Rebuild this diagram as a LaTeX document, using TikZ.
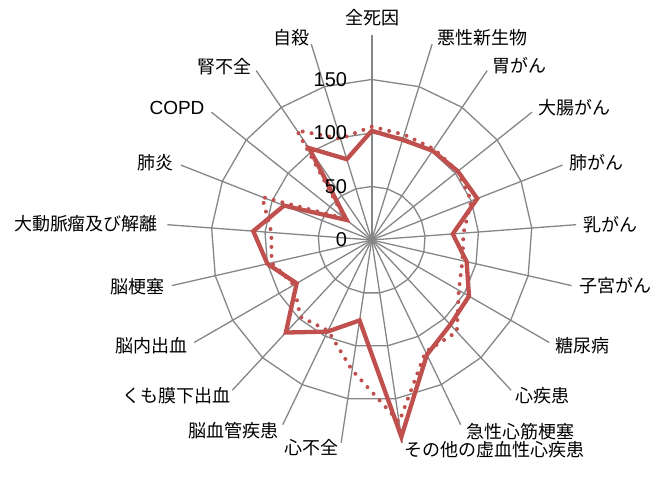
\documentclass[tikz,border=0pt]{standalone}
\usepackage{fontspec}
\setmainfont{Noto Sans CJK JP}
\newfontfamily\latinfont{Liberation Sans}
\definecolor{gridgray}{HTML}{868686}
\definecolor{serred}{HTML}{C0504D}
\tikzset{
  gridline/.style={draw=gridgray, line width=1.3pt},
  axisline/.style={draw=gridgray, line width=1.3pt},
  mainaxis/.style={draw=gridgray, line width=2pt},
  solidser/.style={draw=serred, line width=4.3pt, line join=miter},
  dotser/.style={draw=serred, line width=4pt, line cap=round, dash pattern=on 0pt off 9pt},
  catlabel/.style={font=\fontsize{18}{20}\selectfont, inner sep=0pt},
  vallabel/.style={font=\latinfont\fontsize{20}{22}\selectfont, inner sep=0pt, anchor=east}
}
\begin{document}
\begin{tikzpicture}[x=1pt,y=1pt]
\useasboundingbox (0,0) rectangle (665,477);
\coordinate (C) at (371.7,237);
\begin{scope}[shift={(C)}]
  % radial axes
  \foreach \i in {1,...,20} \draw[axisline] (0,0) -- ({90-\i*360/21}:205);
  \draw[mainaxis] (0,0) -- (90:205);
  % rings
  \foreach \r in {53.5,107,160.5}
    \draw[gridline] (90:\r) \foreach \i in {1,...,20}{ -- ({90-\i*360/21}:\r)} -- cycle;
  % data points
  \foreach \v [count=\i from 0] in {102,98,101,103,106,76,91,105,108,119,186,76,95,118,81,100,111,88,30,104,79}
    \coordinate (s\i) at ({90-\i*360/21}:{\v*1.07});
  \foreach \v [count=\i from 0] in {106,103,103,103,100,86,87,94,117,116,172,123,94,98,84,96,94,110,32,124,99}
    \coordinate (d\i) at ({90-\i*360/21}:{\v*1.07});
  \draw[dotser] (d0) \foreach \i in {1,...,20}{ -- (d\i)} -- cycle;
  \draw[solidser] (s0) \foreach \i in {1,...,20}{ -- (s\i)} -- cycle;
  % value labels
  \node[vallabel] (v0) at (-24.5,0) {0};
  \node[vallabel] (v50) at (-24.5,53.5) {50};
  \node[vallabel] (v100) at (-24.5,107) {100};
  \node[vallabel] (v150) at (-24.5,160.5) {150};
\end{scope}
% category labels (image coords converted: y = 477 - y_img)
\node[catlabel] (l0) at (372,459) {全死因};
\node[catlabel] (l1) at (482,439) {悪性新生物};
\node[catlabel] (l2) at (519,411) {胃がん};
\node[catlabel] (l3) at (574,369) {大腸がん};
\node[catlabel] (l4) at (596,314) {肺がん};
\node[catlabel] (l5) at (610,252) {乳がん};
\node[catlabel] (l6) at (615,191) {子宮がん};
\node[catlabel] (l7) at (582,131) {糖尿病};
\node[catlabel] (l8) at (542.5,81) {心疾患};
\node[catlabel] (l9) at (520,45) {急性心筋梗塞};
\node[catlabel] (l10) at (494,27) {その他の虚血性心疾患};
\node[catlabel] (l11) at (311.5,29) {心不全};
\node[catlabel] (l12) at (233,46) {脳血管疾患};
\node[catlabel] (l13) at (176,81) {くも膜下出血};
\node[catlabel] (l14) at (151,131) {脳内出血};
\node[catlabel] (l15) at (137,190) {脳梗塞};
\node[catlabel] (l16) at (86,253) {大動脈瘤及び解離};
\node[catlabel] (l17) at (155,314) {肺炎};
\node[catlabel, font=\latinfont\fontsize{19}{21}\selectfont] (l18) at (177,369) {COPD};
\node[catlabel] (l19) at (224,410) {腎不全};
\node[catlabel] (l20) at (291,439) {自殺};
\end{tikzpicture}
\end{document}
